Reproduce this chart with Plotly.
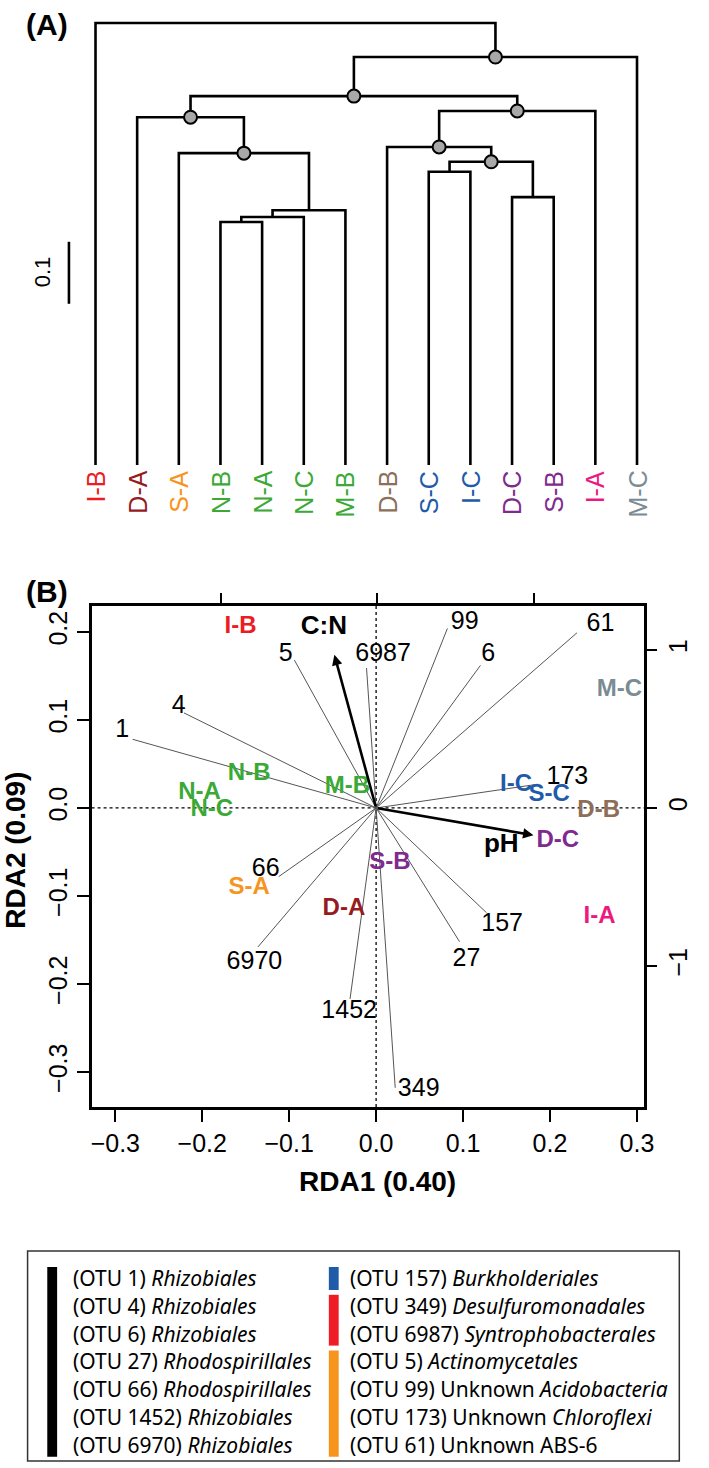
import plotly.graph_objects as go

W, H = 709, 1468
FONT = "Liberation Sans, Arial, sans-serif"
LEGFONT = "Noto Sans, sans-serif"

# ---------------- Panel A: dendrogram ----------------
leaves = ["I-B", "D-A", "S-A", "N-B", "N-A", "N-C", "M-B",
          "D-B", "S-C", "I-C", "D-C", "S-B", "I-A", "M-C"]
# children: leaf names or index of an earlier merge
merge_left = ["N-B", 0, 1, "S-A", "D-A", "S-C", "D-C", 5, "D-B", 8, 4, 10, "I-B"]
merge_right = ["N-A", "N-C", "M-B", 2, 3, "I-C", "S-B", 6, 7, "I-A", 9, "M-C", 11]
merge_height = [0.392, 0.400, 0.411, 0.503, 0.561, 0.473, 0.432,
                0.489, 0.513, 0.571, 0.595, 0.658, 0.713]
merge_support = [False, False, False, True, True, False, False,
                 True, True, True, True, True, False]
scale_bar_value = 0.1

site_colors = {
    "I-B": "#EC1C24", "D-A": "#951B1E", "S-A": "#F7941D",
    "N-B": "#3AA935", "N-A": "#3AA935", "N-C": "#3AA935", "M-B": "#3AA935",
    "D-B": "#8D6E58", "S-C": "#1F5BA8", "I-C": "#1F5BA8",
    "D-C": "#7F2A8F", "S-B": "#7F2A8F", "I-A": "#EC1A80", "M-C": "#7A8C93",
}

# ---------------- Panel B: RDA biplot ----------------
sites = ["I-B", "M-C", "N-B", "N-A", "N-C", "M-B", "I-C", "S-C",
         "D-B", "D-C", "S-B", "S-A", "D-A", "I-A"]
site_x = [-0.156, 0.280, -0.146, -0.203, -0.189, -0.033, 0.161, 0.199,
          0.256, 0.209, 0.016, -0.146, -0.037, 0.257]
site_y = [0.206, 0.134, 0.039, 0.017, -0.002, 0.024, 0.026, 0.015,
          -0.003, -0.038, -0.063, -0.091, -0.115, -0.124]

otus = ["1", "4", "5", "6987", "99", "6", "61", "173",
        "66", "6970", "157", "27", "1452", "349"]
otu_end_x = [-0.280, -0.221, -0.094, -0.011, 0.082, 0.120, 0.231, 0.186,
             -0.112, -0.136, 0.127, 0.096, -0.030, 0.022]
otu_end_y = [0.078, 0.108, 0.168, 0.159, 0.204, 0.162, 0.199, 0.027,
             -0.078, -0.158, -0.119, -0.152, -0.217, -0.318]
otu_lab_x = [-0.292, -0.227, -0.104, 0.008, 0.102, 0.129, 0.258, 0.220,
             -0.127, -0.140, 0.145, 0.104, -0.031, 0.049]
otu_lab_y = [0.088, 0.115, 0.174, 0.174, 0.210, 0.174, 0.208, 0.034,
             -0.070, -0.176, -0.133, -0.173, -0.232, -0.320]

env = ["C:N", "pH"]
env_x = [-0.048, 0.181]
env_y = [0.174, -0.031]
env_lab_x = [-0.060, 0.144]
env_lab_y = [0.205, -0.043]

x_ticks = [-0.3, -0.2, -0.1, 0.0, 0.1, 0.2, 0.3]
y_ticks = [-0.3, -0.2, -0.1, 0.0, 0.1, 0.2]
sec_ticks = [-1, 0, 1]

# ---------------- Legend ----------------
legend_col1 = [("1", "", "Rhizobiales"), ("4", "", "Rhizobiales"),
               ("6", "", "Rhizobiales"), ("27", "", "Rhodospirillales"),
               ("66", "", "Rhodospirillales"), ("1452", "", "Rhizobiales"),
               ("6970", "", "Rhizobiales")]
legend_col2 = [("157", "", "Burkholderiales"), ("349", "", "Desulfuromonadales"),
               ("6987", "", "Syntrophobacterales"), ("5", "", "Actinomycetales"),
               ("99", "Unknown ", "Acidobacteria"), ("173", "Unknown ", "Chloroflexi"),
               ("61", "Unknown ABS-6", "")]
legend_bars_col1 = [(0, 6, "#000000")]
legend_bars_col2 = [(0, 0, "#1F5BA8"), (1, 2, "#EE1C24"), (3, 6, "#F7941D")]

# =====================================================
fig = go.Figure()

def px_x(p):
    return p / W

def px_y(p):
    return 1 - p / H

# ----- dendrogram geometry -----
leaf_pos = {name: i + 1 for i, name in enumerate(leaves)}
node_x, node_h = [], []

def child_coord(c):
    if isinstance(c, str):
        return leaf_pos[c], 0.0
    return node_x[c], node_h[c]

seg_x, seg_y = [], []
for l, r, h in zip(merge_left, merge_right, merge_height):
    xl, hl = child_coord(l)
    xr, hr = child_coord(r)
    seg_x += [xl, xl, xr, xr, None]
    seg_y += [hl, h, h, hr, None]
    node_x.append((xl + xr) / 2)
    node_h.append(h)

fig.add_trace(go.Scatter(x=seg_x, y=seg_y, mode="lines",
                         line=dict(color="black", width=2.6),
                         xaxis="x", yaxis="y", hoverinfo="skip", showlegend=False))
sx = [x for x, s in zip(node_x, merge_support) if s]
sy = [h for h, s in zip(node_h, merge_support) if s]
fig.add_trace(go.Scatter(x=sx, y=sy, mode="markers",
                         marker=dict(symbol="circle", size=13, color="#A8A8A8",
                                     line=dict(color="black", width=2)),
                         xaxis="x", yaxis="y", hoverinfo="skip", showlegend=False))

annotations = []
for name in leaves:
    annotations.append(dict(x=leaf_pos[name], y=0, xref="x", yref="y",
                            text=name, showarrow=False, textangle=-90,
                            xanchor="center", yanchor="top", yshift=-4,
                            font=dict(family=FONT, size=25, color=site_colors[name])))

# scale bar (vertical, 0.1 units)
bar_top = 0.36
fig.add_trace(go.Scatter(x=[0.362, 0.362], y=[bar_top - scale_bar_value, bar_top],
                         mode="lines", line=dict(color="black", width=2.6),
                         xaxis="x", yaxis="y", hoverinfo="skip", showlegend=False))
annotations.append(dict(x=px_x(43), y=px_y(272), xref="paper", yref="paper",
                        xanchor="center", yanchor="middle",
                        text=str(scale_bar_value), showarrow=False, textangle=-90,
                        font=dict(family=FONT, size=22, color="black")))

# ----- RDA biplot -----
seg_x, seg_y = [], []
for ex, ey in zip(otu_end_x, otu_end_y):
    seg_x += [0, ex, None]
    seg_y += [0, ey, None]
fig.add_trace(go.Scatter(x=seg_x, y=seg_y, mode="lines",
                         line=dict(color="#555555", width=1),
                         xaxis="x2", yaxis="y2", hoverinfo="skip", showlegend=False))
fig.add_trace(go.Scatter(x=otu_lab_x, y=otu_lab_y, mode="text", text=otus,
                         textposition="middle center",
                         textfont=dict(family=FONT, size=25, color="black"),
                         xaxis="x2", yaxis="y2", hoverinfo="skip", showlegend=False))
fig.add_trace(go.Scatter(x=site_x, y=site_y, mode="text",
                         text=["<b>%s</b>" % s for s in sites],
                         textposition="middle center",
                         textfont=dict(family=FONT, size=24,
                                       color=[site_colors[s] for s in sites]),
                         xaxis="x2", yaxis="y2", hoverinfo="skip", showlegend=False))
fig.add_trace(go.Scatter(x=env_lab_x, y=env_lab_y, mode="text",
                         text=["<b>%s</b>" % e for e in env],
                         textposition="middle center",
                         textfont=dict(family=FONT, size=26, color="black"),
                         xaxis="x2", yaxis="y2", hoverinfo="skip", showlegend=False))
for ex, ey in zip(env_x, env_y):
    annotations.append(dict(x=ex, y=ey, ax=0, ay=0, xref="x2", yref="y2",
                            axref="x2", ayref="y2", text="", showarrow=True,
                            arrowhead=2, arrowsize=0.8, arrowwidth=2.6,
                            arrowcolor="black", standoff=0))

# dummy trace for secondary axes
fig.add_trace(go.Scatter(x=[], y=[], xaxis="x3", yaxis="y3", showlegend=False))

shapes = [
    dict(type="line", xref="x2 domain", yref="y2", x0=0, x1=1, y0=0, y1=0,
         line=dict(color="black", width=1.3, dash="dot"), layer="below"),
    dict(type="line", xref="x2", yref="y2 domain", x0=0, x1=0, y0=0, y1=1,
         line=dict(color="black", width=1.3, dash="dot"), layer="below"),
]

# panel labels & axis titles
annotations += [
    dict(x=px_x(47), y=px_y(24), xref="paper", yref="paper", text="<b>(A)</b>",
         xanchor="center", yanchor="middle",
         showarrow=False, font=dict(family=FONT, size=30, color="black")),
    dict(x=px_x(47), y=px_y(591), xref="paper", yref="paper", text="<b>(B)</b>",
         xanchor="center", yanchor="middle",
         showarrow=False, font=dict(family=FONT, size=30, color="black")),
    dict(x=px_x(382), y=px_y(1181), xref="paper", yref="paper", text="<b>RDA1 (0.40)</b>",
         xanchor="center", yanchor="middle",
         showarrow=False, font=dict(family=FONT, size=28, color="black")),
    dict(x=px_x(15), y=px_y(850), xref="paper", yref="paper", text="<b>RDA2 (0.09)</b>",
         xanchor="center", yanchor="middle",
         showarrow=False, textangle=-90, font=dict(family=FONT, size=28, color="black")),
]

# ----- legend box -----
shapes.append(dict(type="rect", xref="paper", yref="paper",
                   x0=px_x(27), x1=px_x(689), y0=px_y(1251), y1=px_y(1461),
                   line=dict(color="#333333", width=1.5), fillcolor="rgba(0,0,0,0)"))
row0, row_step = 1278, 27.8

def legend_text(otu, pre, it):
    s = "(OTU %s) %s" % (otu, pre)
    if it:
        s += "<i>%s</i>" % it
    return s

for col, (items, bars, bx, tx) in enumerate([(legend_col1, legend_bars_col1, 47, 71),
                                             (legend_col2, legend_bars_col2, 333, 352)]):
    for k, (otu, pre, it) in enumerate(items):
        annotations.append(dict(x=px_x(tx), y=px_y(row0 + k * row_step), xref="paper",
                                yref="paper", text=legend_text(otu, pre, it),
                                showarrow=False, xanchor="left", yanchor="middle",
                                font=dict(family=LEGFONT, size=21, color="black")))
    for a, b, c in bars:
        shapes.append(dict(type="rect", xref="paper", yref="paper",
                           x0=px_x(bx), x1=px_x(bx + 10),
                           y0=px_y(row0 + a * row_step - 11), y1=px_y(row0 + b * row_step + 12),
                           line=dict(width=0), fillcolor=c))

axis_common = dict(ticks="outside", ticklen=12, tickwidth=2, tickcolor="black",
                   linecolor="black", linewidth=2.5, showgrid=False, zeroline=False,
                   tickfont=dict(family=FONT, size=25, color="black"))
sec_common = {k: v for k, v in axis_common.items() if k not in ("linecolor", "linewidth")}

fig.update_layout(
    width=W, height=H, margin=dict(l=0, r=0, t=0, b=0),
    paper_bgcolor="white", plot_bgcolor="rgba(0,0,0,0)",
    showlegend=False,
    xaxis=dict(domain=[0, 1], range=[1 - 96 / 42.31, 1 + 613 / 42.31], visible=False,
               anchor="y"),
    yaxis=dict(domain=[px_y(600), 1], range=[(465 - 600) / 620, 465 / 620], visible=False,
               anchor="x"),
    xaxis2=dict(domain=[px_x(92), px_x(653)], range=[-0.3273, 0.3080], anchor="y2",
                tickvals=x_ticks, tickformat=".1f", mirror=True, showline=True,
                **axis_common),
    yaxis2=dict(domain=[px_y(1107), px_y(606)], range=[-0.3398, 0.2295], anchor="x2",
                tickvals=y_ticks, tickformat=".1f", tickangle=-90, mirror=True,
                showline=True, **axis_common),
    xaxis3=dict(overlaying="x2", side="top", anchor="y3", range=[-1.824, 1.704],
                tickvals=sec_ticks, showticklabels=False, showline=False, **sec_common),
    yaxis3=dict(overlaying="y2", side="right", anchor="x3", range=[-1.892, 1.278],
                tickvals=sec_ticks, tickangle=-90, showline=False, **sec_common),
    annotations=annotations,
    shapes=shapes,
)

fig.write_html("out.html", config={"displayModeBar": False},
               post_script="document.body.style.margin='0';document.body.style.overflow='hidden';")
